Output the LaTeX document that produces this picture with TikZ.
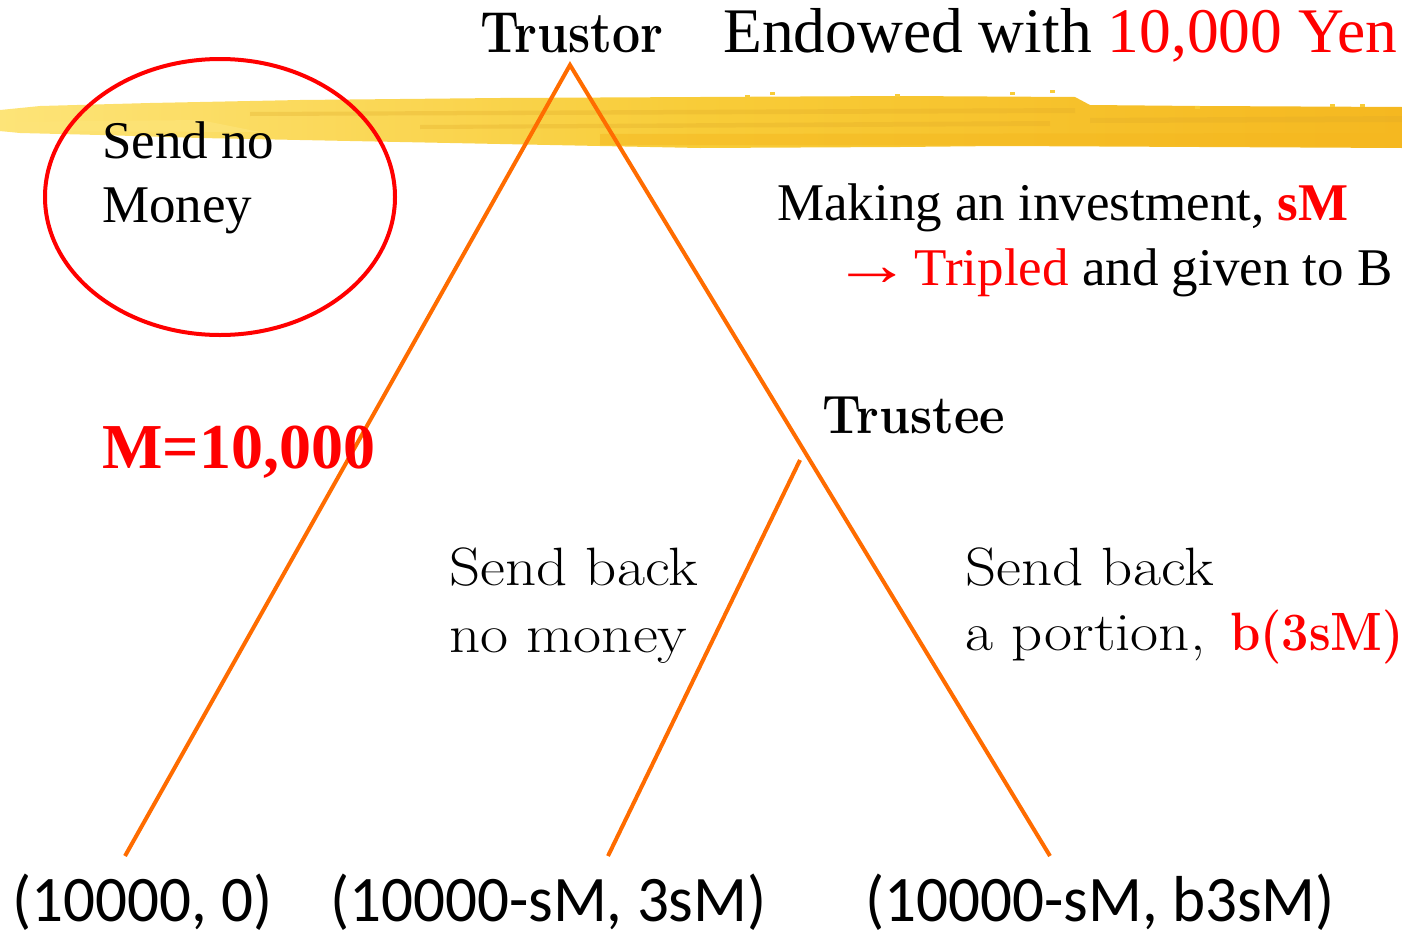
\documentclass[tikz,border=0pt]{standalone}
\usepackage{fontspec}
\usepackage{graphicx}
\usetikzlibrary{shapes.geometric}
\newfontfamily\timesf{Liberation Serif}
\newfontfamily\calibf{Carlito}
\newcommand\setfs[1]{\fontsize{#1}{#1}\selectfont}
\definecolor{branchorange}{RGB}{255,108,0}
\definecolor{hired}{RGB}{255,0,0}
\definecolor{brushlight}{RGB}{253,228,120}
\definecolor{brushmid}{RGB}{248,204,56}
\definecolor{brushdeep}{RGB}{245,184,32}
\definecolor{brushdark}{RGB}{224,170,40}
\tikzset{
  txt/.style={inner sep=0pt, anchor=base west},
  branch/.style={draw=branchorange, line width=4pt},
  streak/.style={fill=brushdark, opacity=0.3},
}
\begin{document}
\begin{tikzpicture}[x=1pt, y=-1pt]
\useasboundingbox (0,0) rectangle (1402,937);

% highlighter brush stroke across the top
\shade[left color=brushlight, right color=brushdeep, middle color=brushmid]
  (0,110) -- (40,106) -- (150,103) -- (300,100) -- (500,98) -- (700,97)
  -- (900,96) -- (1075,97) -- (1090,105) -- (1200,106) -- (1402,107)
  -- (1402,148) -- (1200,147) -- (1000,146) -- (900,147) -- (700,148)
  -- (500,144) -- (300,140) -- (200,138) -- (100,135) -- (20,133) -- (0,131) -- cycle;
\fill[streak] (250,112) -- (1075,108) -- (1075,113) -- (250,116) -- cycle;
\fill[streak] (420,125) -- (1050,121) -- (1050,126) -- (420,129) -- cycle;
\fill[streak] (1090,118) -- (1402,116) -- (1402,122) -- (1090,123) -- cycle;
\fill[fill=brushdeep, opacity=0.5] (600,134) -- (1402,133) -- (1402,146) -- (600,145) -- cycle;
\fill[fill=brushlight, opacity=0.7] (0,122) -- (200,120) -- (260,132) -- (0,131) -- cycle;
\foreach \px/\py in {745/95, 770/92, 895/94, 1010/92, 1050/90, 1195/106, 1330/104, 1360/104}
  \fill[brushmid] (\px,\py) rectangle ++(5,2.5);

% "send no money" marker
\node[draw=hired, line width=4pt, ellipse, minimum width=350pt, minimum height=276pt, inner sep=0pt] (circ) at (220,197) {};

% game tree branches
\coordinate (root) at (570,65);
\coordinate (leafA) at (125,856);
\coordinate (leafC) at (1050,856);
\coordinate (tnode) at (800,460);
\coordinate (leafB) at (608,856);
\draw[branch] (leafA) -- (root) -- (leafC);
\draw[branch] (tnode) -- (leafB);

% labels
\node[txt] (trustor) at (480,52) {\scalebox{0.86}[1]{\setfs{58}\bfseries Trustor}};
\node[txt] (endow) at (723,52) {\timesf\setfs{63.5}Endowed with \textcolor{hired}{10,000 Yen}};
\node[txt] (sendno1) at (102,158) {\timesf\setfs{53}Send no};
\node[txt] (sendno2) at (102,222) {\timesf\setfs{53}Money};
\node[txt] (invest1) at (777,220) {\timesf\setfs{53}Making an investment, \textcolor{hired}{\bfseries sM}};
\node[txt] (invest2) at (832,285) {\timesf\setfs{53}\textcolor{hired}{\scalebox{1.5}[1.15]{→}\hspace{3pt}Tripled} and given to B};
\node[txt] (trustee) at (822,433) {\scalebox{0.92}[1]{\setfs{54}\bfseries Trustee}};
\node[txt] (mval) at (102,468) {\timesf\setfs{64}\bfseries\textcolor{hired}{M=10,000}};
\node[txt] (back1a) at (449,585) {\scalebox{1.13}[1]{\setfs{54}Send back}};
\node[txt] (back1b) at (449,652) {\scalebox{1.13}[1]{\setfs{54}no money}};
\node[txt] (back2a) at (965,585) {\scalebox{1.13}[1]{\setfs{54}Send back}};
\node[txt] (back2b) at (965,650) {\scalebox{1.13}[1]{\setfs{54}a portion,}};
\node[txt] (share) at (1230,650) {\scalebox{0.9}[1]{\setfs{54}\bfseries\textcolor{hired}{b(3sM)}}};
\node[txt] (payA) at (12,921) {\scalebox{0.97}[1]{\calibf\setfs{65}(10000, 0)}};
\node[txt] (payB) at (330,921) {\scalebox{0.97}[1]{\calibf\setfs{65}(10000-sM, 3sM)}};
\node[txt] (payC) at (865,921) {\scalebox{0.97}[1]{\calibf\setfs{65}(10000-sM, b3sM)}};
\end{tikzpicture}
\end{document}
